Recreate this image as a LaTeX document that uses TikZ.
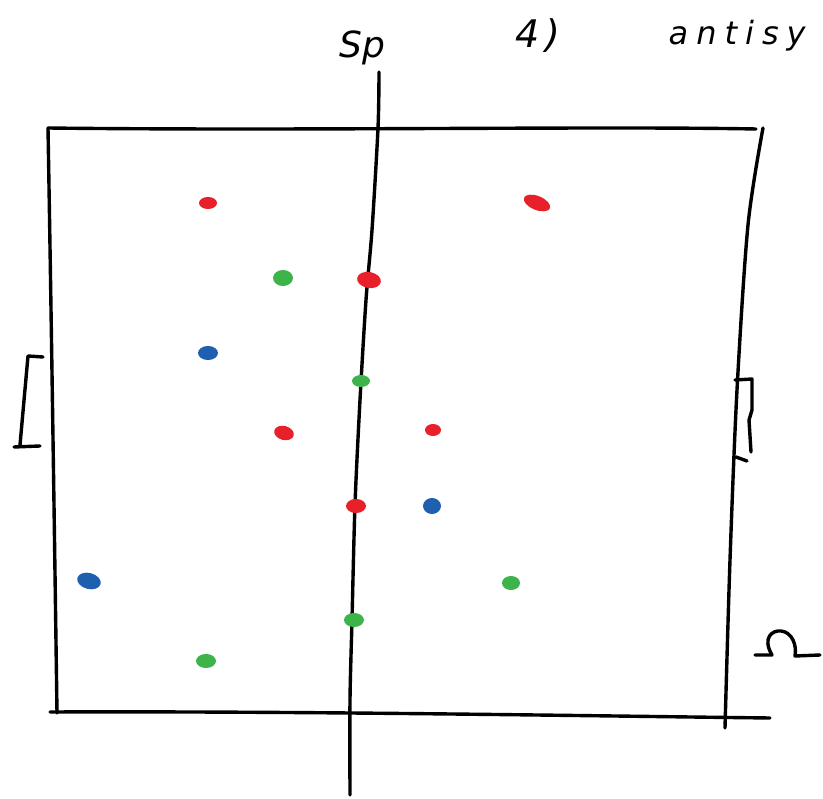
\documentclass[tikz,border=0pt]{standalone}
\usepackage{fontspec}
\setmainfont{DejaVu Sans}
\definecolor{dotred}{HTML}{E8202A}
\definecolor{dotgreen}{HTML}{3CB44A}
\definecolor{dotblue}{HTML}{1F5FB0}
\begin{document}
\begin{tikzpicture}[x=1pt,y=-1pt,line width=3.4pt,line cap=round,line join=round,
  handtext/.style={font=\fontsize{32}{34}\selectfont\itshape, inner sep=0pt, anchor=base west},
  rdot/.style={fill=dotred, draw=none},
  gdot/.style={fill=dotgreen, draw=none},
  bdot/.style={fill=dotblue, draw=none}]
\useasboundingbox (0,0) rectangle (823,799);
\fill[white] (0,0) rectangle (823,799);
% frame
\draw (48,128) .. controls (300,131) and (600,126) .. (756,129);
\draw (48,128) .. controls (51,300) and (54,500) .. (57,713);
\draw (50,712) .. controls (300,711) and (600,716) .. (770,718);
\draw plot[smooth] coordinates {(763,128) (748,225) (737,390) (730,560) (725,728)};
% small rectangles (goals)
\draw (43,357) -- (28,356) -- (20,445);
\draw (14,447) -- (40,446);
\draw (735,380) -- (752,379) -- (752,410) -- (749,420) -- (751,452);
\draw (736,457) -- (747,461);
% Sp line
\draw plot[smooth] coordinates {(379,72) (378,128) (372,230) (366,300) (360,400) (355,505) (352,620) (350,700) (350,795)};
% labels
\node[handtext, font=\fontsize{36}{38}\selectfont\itshape] (sp) at (338,58) {Sp};
\node[handtext, font=\fontsize{38}{40}\selectfont\itshape] (four) at (514,48) {4\kern6pt )};
\node[handtext] (anti) at (667,45) {a\kern8pt n\kern8pt t\kern8pt i\kern8pt s\kern8pt y};
% Omega
\draw (755,655) -- (772,655) .. controls (762,638) and (772,630) .. (781,631)
  .. controls (792,632) and (797,645) .. (795,656) -- (820,655);
% dots
\fill[rdot] (208,203) ellipse (9 and 6);
\fill[rdot, rotate around={-22:(537,203)}] (537,203) ellipse (14 and 7);
\fill[rdot, rotate around={-10:(369,280)}] (369,280) ellipse (12 and 8);
\fill[rdot, rotate around={-15:(284,433)}] (284,433) ellipse (10 and 7);
\fill[rdot] (433,430) ellipse (8 and 6);
\fill[rdot] (356,506) ellipse (10 and 7);
\fill[gdot] (283,278) ellipse (10 and 8);
\fill[gdot] (361,381) ellipse (9 and 6);
\fill[gdot] (511,583) ellipse (9 and 7);
\fill[gdot] (354,620) ellipse (10 and 7);
\fill[gdot] (206,661) ellipse (10 and 7);
\fill[bdot] (208,353) ellipse (10 and 7);
\fill[bdot] (432,506) ellipse (9 and 8);
\fill[bdot, rotate around={-15:(89,581)}] (89,581) ellipse (12 and 8);
\end{tikzpicture}
\end{document}
